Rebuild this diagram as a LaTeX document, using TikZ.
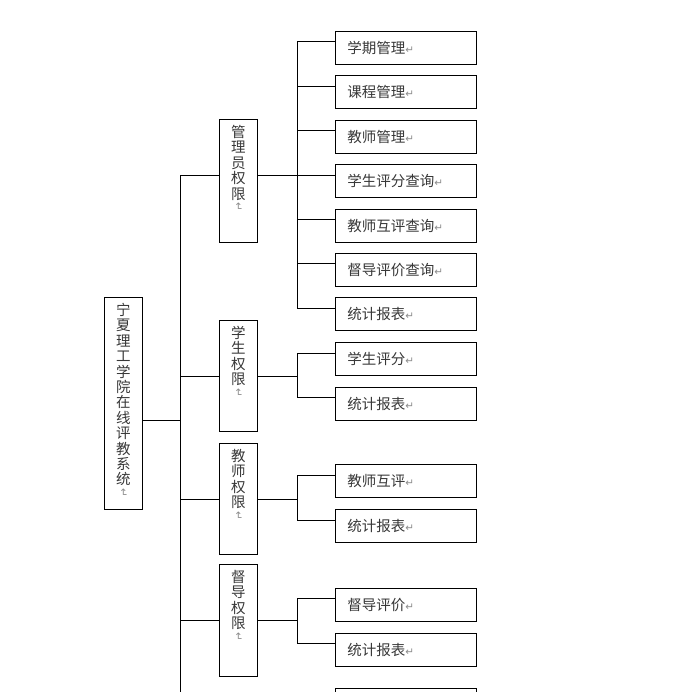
\documentclass[tikz,border=0pt]{standalone}
\usepackage{fontspec}
\usepackage{graphicx}
\setmainfont{Noto Sans CJK SC}
\newfontfamily\symfont{DejaVu Sans}
\usetikzlibrary{positioning}

\definecolor{txtgray}{RGB}{55,55,55}
\definecolor{markgray}{RGB}{140,140,140}
\newcommand{\retmark}{{\symfont\fontsize{10.5}{10.5}\selectfont\color{markgray}↵}}
\newcommand{\vmark}{\rotatebox[origin=c]{-90}{\retmark}}

\tikzset{
  box/.style={draw, line width=0.9pt, inner sep=0pt, text=txtgray},
  rootbox/.style={box, minimum width=38pt, minimum height=212pt, anchor=north west},
  rightbox/.style={box, minimum width=38pt, anchor=north west},
  leaf/.style={box, anchor=north west, minimum height=33pt, text width=117pt,
    inner xsep=12pt, align=left, font=\fontsize{14.5}{15}\selectfont},
  vtext/.style={anchor=north, align=center, inner sep=0pt, text=txtgray,
    font=\fontsize{14.5}{15.4}\selectfont},
  link/.style={line width=0.9pt}
}

\begin{document}
\begin{tikzpicture}[x=1pt,y=-1pt]
        % canvas
        \useasboundingbox (0,0) rectangle (693,692);
        \clip (0,0) rectangle (693,692);

        % root
        \node[rootbox] (root) at (104,297) {};
        \node[vtext] (roott) at ([yshift=-6pt]root.north)
            {宁\\夏\\理\\工\\学\\院\\在\\线\\评\\教\\系\\统\\[-4pt]\vmark};

        % the four kinds of rights
        \node[rightbox, minimum height=123pt] (admin) at (219,119) {};
        \node[rightbox, minimum height=111pt] (stu) at (219,320) {};
        \node[rightbox, minimum height=111pt] (tea) at (219,443) {};
        \node[rightbox, minimum height=112pt] (sup) at (219,564) {};
        \node[vtext] (admint) at ([yshift=-6pt]admin.north) {管\\理\\员\\权\\限\\[-4pt]\vmark};
        \node[vtext] (stut) at ([yshift=-6pt]stu.north) {学\\生\\权\\限\\[-4pt]\vmark};
        \node[vtext] (teat) at ([yshift=-6pt]tea.north) {教\\师\\权\\限\\[-4pt]\vmark};
        \node[vtext] (supt) at ([yshift=-6pt]sup.north) {督\\导\\权\\限\\[-4pt]\vmark};

        % the functions
        \foreach \n/\t/\y in {
            a1/学期管理/31,
            a2/课程管理/75.4,
            a3/教师管理/119.8,
            a4/学生评分查询/164.2,
            a5/教师互评查询/208.6,
            a6/督导评价查询/253,
            a7/统计报表/297.4,
            s1/学生评分/342,
            s2/统计报表/386.7,
            t1/教师互评/464,
            t2/统计报表/509,
            d1/督导评价/587.7,
            d2/统计报表/632.7}
                \node[leaf] (\n) at (335,\y) {\t\retmark};
        \node[leaf] (more) at (335,687.7) {};

        % root to the trunk
        \coordinate (trunkend) at (180,700);
        \draw[link] ([yshift=-17pt]root.east) -- ++(38,0);
        \draw[link] ([yshift=5.5pt]admin.west) -- ++(-39,0) -- (trunkend);
        \foreach \n in {stu,tea,sup}
                \draw[link] (\n.west) -- ++(-39,0);

        % rights to their functions
        \draw[link] ([yshift=5.5pt]admin.east) -- ++(40,0);
        \foreach \n in {stu,tea,sup}
                \draw[link] (\n.east) -- ++(40,0);
        \foreach \a/\b in {a1/a7,s1/s2,t1/t2,d1/d2}
                \draw[link] ([yshift=6pt]\a.west) -- ++(-38,0) |- ([yshift=6pt]\b.west);
        \foreach \n in {a2,a3,a4,a5,a6}
                \draw[link] ([yshift=6pt]\n.west) -- ++(-38,0);
\end{tikzpicture}
\end{document}
